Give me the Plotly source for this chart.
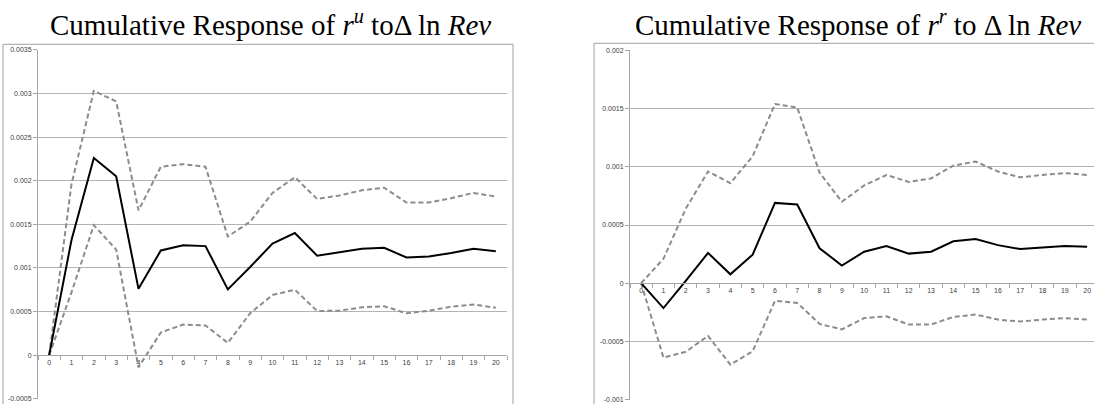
import plotly.graph_objects as go

W, H = 1094, 404

horizons = [str(i) for i in range(21)]

# Left panel: response of r^u
left_mid = [0, 0.00132, 0.00226, 0.00205, 0.00076, 0.00120, 0.00126, 0.00125, 0.000754, 0.00101,
            0.00128, 0.00140, 0.00114, 0.00118, 0.00122, 0.00123, 0.00112, 0.00113, 0.00117, 0.00122, 0.00119]
left_up = [0, 0.00196, 0.00303, 0.00291, 0.00166, 0.00216, 0.00219, 0.00216, 0.00136, 0.00153,
           0.00186, 0.00204, 0.00179, 0.00183, 0.00189, 0.00192, 0.00175, 0.00175, 0.00180, 0.00186, 0.00182]
left_lo = [0, 0.00072, 0.00149, 0.00121, -0.00014, 0.00026, 0.00035, 0.00034, 0.00014, 0.00048,
           0.00069, 0.00075, 0.000506, 0.00051, 0.000548, 0.00056, 0.00048, 0.00051, 0.000555, 0.00058, 0.000544]
left_ticks = [-0.0005, 0, 0.0005, 0.001, 0.0015, 0.002, 0.0025, 0.003, 0.0035]
left_ticktext = ["-0.0005", "0", "0.0005", "0.001", "0.0015", "0.002", "0.0025", "0.003", "0.0035"]

# Right panel: response of r^r
right_mid = [0, -0.000214, 0.00002, 0.00026, 0.000076, 0.000245, 0.00069, 0.000676, 0.00030, 0.000152,
             0.00027, 0.00032, 0.000254, 0.00027, 0.00036, 0.00038, 0.000327, 0.000293, 0.000307, 0.00032, 0.000313]
right_up = [0, 0.00021, 0.00064, 0.00096, 0.00086, 0.00109, 0.00154, 0.00151, 0.00095, 0.00070,
            0.00084, 0.00093, 0.00087, 0.00090, 0.00101, 0.001045, 0.00096, 0.00091, 0.00093, 0.000946, 0.00093]
right_lo = [0, -0.00064, -0.00059, -0.000453, -0.00070, -0.000586, -0.000152, -0.00017, -0.00035, -0.000397,
            -0.00030, -0.000285, -0.000355, -0.000355, -0.00029, -0.00027, -0.000313, -0.00033, -0.000313, -0.00030, -0.000313]
right_ticks = [-0.001, -0.0005, 0, 0.0005, 0.001, 0.0015, 0.002]
right_ticktext = ["-0.001", "-0.0005", "0", "0.0005", "0.001", "0.0015", "0.002"]

left_title = "Cumulative Response of <i>r</i><sup><i>u</i></sup> to\u0394 ln <i>Rev</i>"
right_title = "Cumulative Response of <i>r</i><sup><i>r</i></sup> to \u0394 ln <i>Rev</i>"

# layout (pixels)
L_dom_x = [38 / W, 507 / W]
L_dom_y = [1 - 401.7 / H, 1 - 46.7 / H]
L_yr = [-0.0005, 0.0035]
R_dom_x = [630 / W, 1.0]
R_dom_y = [1 - 402.5 / H, 1 - 47.3 / H]
R_yr = [-0.001, 0.002]
cat_w_R = 22.3
R_xr = [-0.5, -0.5 + (W - 630) / cat_w_R]


def zero_pos(dom, rng):
    return dom[0] + (0 - rng[0]) / (rng[1] - rng[0]) * (dom[1] - dom[0])


fig = go.Figure()
dash_style = dict(color="#8c8c8c", width=2, dash="5px,3px")
solid_style = dict(color="#000000", width=2)

for ys, st in [(left_up, dash_style), (left_lo, dash_style), (left_mid, solid_style)]:
    fig.add_trace(go.Scatter(x=horizons, y=ys, mode="lines", line=st, xaxis="x", yaxis="y",
                             showlegend=False, hoverinfo="skip"))
for ys, st in [(right_up, dash_style), (right_lo, dash_style), (right_mid, solid_style)]:
    fig.add_trace(go.Scatter(x=horizons, y=ys, mode="lines", line=st, xaxis="x2", yaxis="y2",
                             showlegend=False, hoverinfo="skip"))

tick_font = dict(family="Liberation Sans, Arial", size=7, color="#404040")
axis_col = "#a6a6a6"
grid_col = "#b3b3b3"

common_x = dict(type="category", showgrid=False, zeroline=False, showline=True, linecolor=axis_col,
                linewidth=1, ticks="outside", tickson="boundaries", ticklen=4, tickcolor=axis_col,
                tickfont=tick_font, anchor="free", fixedrange=True)
common_y = dict(showgrid=True, gridcolor=grid_col, gridwidth=1, zeroline=False, showline=True,
                linecolor=axis_col, linewidth=1, ticks="outside", ticklen=4, tickcolor=axis_col,
                tickfont=tick_font, fixedrange=True, ticklabeloverflow="allow")

title_font = dict(family="Liberation Serif, DejaVu Serif", size=29, color="#000")

fig.update_layout(
    width=W, height=H, margin=dict(l=0, r=0, t=0, b=0),
    paper_bgcolor="white", plot_bgcolor="white",
    xaxis=dict(domain=L_dom_x, range=[-0.5, 20.5], position=zero_pos(L_dom_y, L_yr), **common_x),
    yaxis=dict(domain=L_dom_y, range=L_yr, tickvals=left_ticks, ticktext=left_ticktext,
               anchor="x", **common_y),
    xaxis2=dict(domain=R_dom_x, range=R_xr, position=zero_pos(R_dom_y, R_yr), **common_x),
    yaxis2=dict(domain=R_dom_y, range=R_yr, tickvals=right_ticks, ticktext=right_ticktext,
                anchor="x2", **common_y),
    annotations=[
        dict(text=left_title, xref="paper", yref="paper", x=270 / W, y=1 - 19 / H,
             xanchor="center", yanchor="middle", showarrow=False, font=title_font),
        dict(text=right_title, xref="paper", yref="paper", x=858 / W, y=1 - 19 / H,
             xanchor="center", yanchor="middle", showarrow=False, font=title_font),
    ],
    shapes=[
        dict(type="rect", xref="paper", yref="paper", x0=3 / W, x1=513 / W, y0=-0.02, y1=1 - 41 / H,
             line=dict(color="#a0a0a0", width=1), layer="below"),
        dict(type="rect", xref="paper", yref="paper", x0=594 / W, x1=1.02, y0=-0.02, y1=1 - 40 / H,
             line=dict(color="#a0a0a0", width=1), layer="below"),
    ],
)

fig.write_html("out.html", config={"displayModeBar": False, "staticPlot": True},
               post_script="document.body.style.margin='0';document.body.style.overflow='hidden';")
